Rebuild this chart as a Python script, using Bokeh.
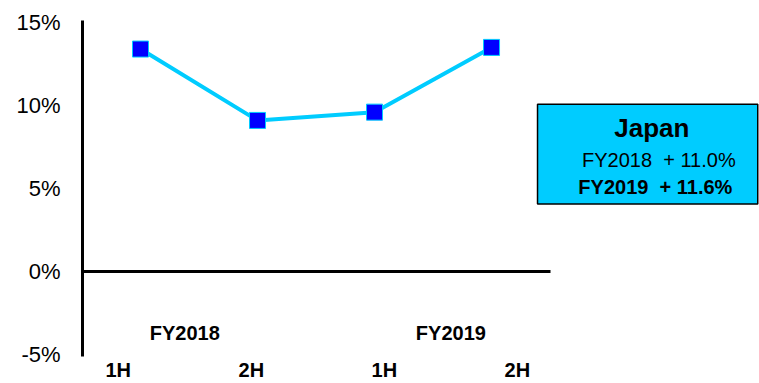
from bokeh.plotting import figure
from bokeh.models import Range1d, FixedTicker, ColumnDataSource
from bokeh.core.properties import value
from bokeh.embed import file_html
from bokeh.resources import INLINE

# ---- data ----
periods = ["1H", "2H", "1H", "2H"]
growth = [13.4, 9.1, 9.6, 13.5]
fiscal_years = ["FY2018", "FY2019"]
y_ticks = [-5, 0, 5, 10, 15]
y_tick_labels = ["-5%", "0%", "5%", "10%", "15%"]
legend_title = "Japan"
legend_lines = ["FY2018\u00a0\u00a0+ 11.0%", "FY2019\u00a0\u00a0+ 11.6%"]

FONT = "Liberation Sans"
CYAN = "#00CCFF"

xs = list(range(len(growth)))

p = figure(width=759, height=383, output_backend="svg", toolbar_location=None,
           x_range=Range1d(-0.4957, 5.29), y_range=Range1d(-5.12, 15.12),
           min_border_left=82, min_border_right=0, min_border_top=20, min_border_bottom=26)
p.outline_line_color = None
p.xgrid.visible = False
p.ygrid.visible = False
p.background_fill_color = "white"
p.border_fill_color = "white"

# y axis
ya = p.yaxis[0]
ya.ticker = FixedTicker(ticks=y_ticks)
ya.major_label_overrides = {t: l for t, l in zip(y_ticks, y_tick_labels)}
ya.axis_line_width = 3
ya.axis_line_color = "black"
ya.major_tick_in = 0
ya.major_tick_out = 0
ya.minor_tick_in = 0
ya.minor_tick_out = 0
ya.major_label_standoff = 22
ya.major_label_text_font = FONT
ya.major_label_text_font_size = "22px"
ya.major_label_text_color = "black"

# x axis (period labels)
step = 1.137
x_tick_pos = [-0.19 + step * i for i in range(len(periods))]
xa = p.xaxis[0]
xa.ticker = FixedTicker(ticks=x_tick_pos)
xa.major_label_overrides = {t: l for t, l in zip(x_tick_pos, periods)}
xa.axis_line_color = None
xa.major_tick_in = 0
xa.major_tick_out = 0
xa.minor_tick_in = 0
xa.minor_tick_out = 0
xa.major_label_standoff = 2
xa.major_label_text_font = FONT
xa.major_label_text_font_style = "bold"
xa.major_label_text_font_size = "20px"
xa.major_label_text_color = "black"

# zero line
p.segment(x0=[-0.4957], y0=[0], x1=[3.504], y1=[0], line_color="black", line_width=3)

# fiscal year labels
fy_x = [x_tick_pos[0] + step / 2 + 2 * step * i for i in range(len(fiscal_years))]
p.text(x=fy_x, y=[-3.68] * len(fiscal_years), text=fiscal_years,
       text_font=value(FONT), text_font_style="bold", text_font_size="20px",
       text_align="center", text_baseline="middle", text_color="black")

# series
src = ColumnDataSource(dict(x=xs, y=growth))
p.line("x", "y", source=src, line_color=CYAN, line_width=4)
p.scatter("x", "y", source=src, marker="square", size=16,
          fill_color="#0000FF", line_color=CYAN, line_width=1)

# legend box
p.quad(left=[3.393], right=[5.275], top=[10.07], bottom=[4.07],
       fill_color=CYAN, line_color="black", line_width=1.5)
p.text(x=[4.37], y=[8.63], text=[legend_title], text_font=value(FONT),
       text_font_style="bold", text_font_size="26px", text_align="center",
       text_baseline="middle", text_color="black")
p.text(x=[4.43], y=[6.71], text=[legend_lines[0]], text_font=value(FONT),
       text_font_style="normal", text_font_size="20px", text_align="center",
       text_baseline="middle", text_color="black")
p.text(x=[4.40], y=[5.1], text=[legend_lines[1]], text_font=value(FONT),
       text_font_style="bold", text_font_size="20px", text_align="center",
       text_baseline="middle", text_color="black")

open("out.html", "w").write(file_html(p, INLINE))
